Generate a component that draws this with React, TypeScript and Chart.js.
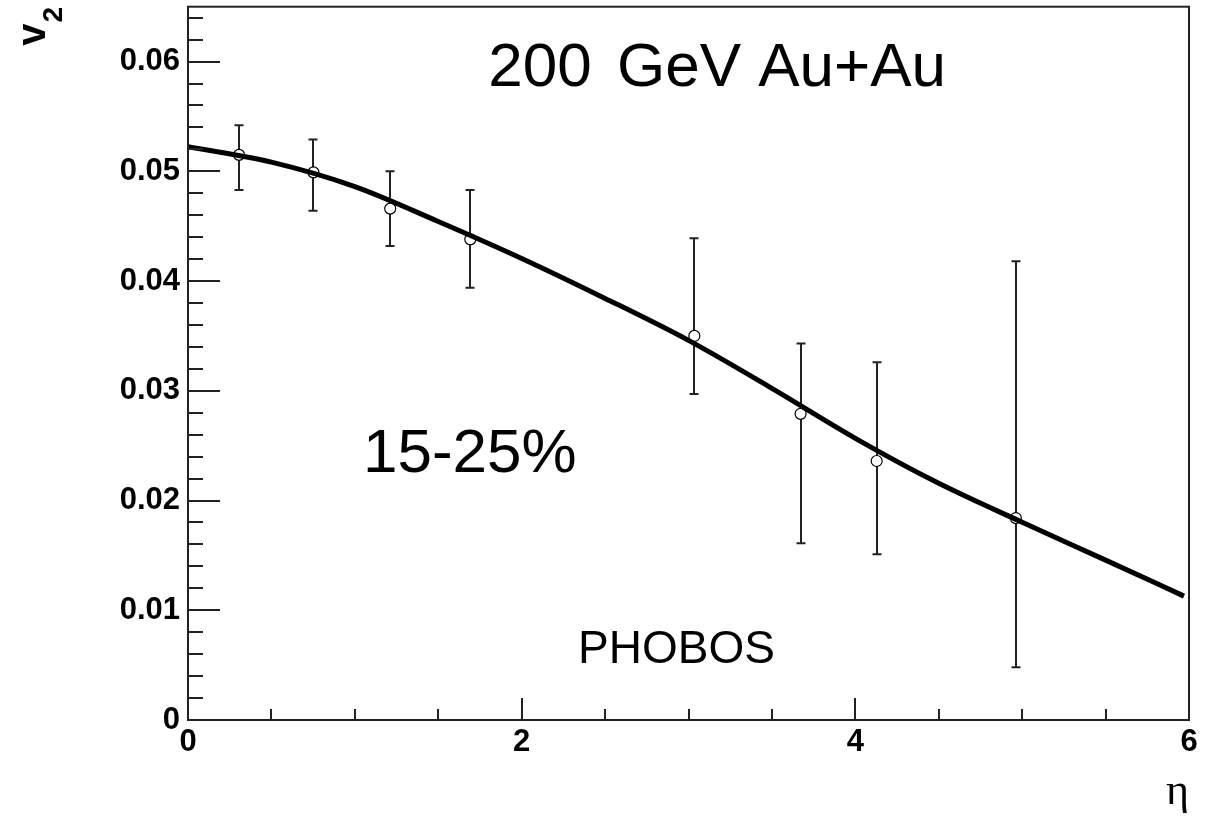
import React, { useEffect, useRef } from "react";
import { Chart, registerables } from "chart.js";

Chart.register(...registerables);

// ---- data ----
const etaPts = [0.306, 0.752, 1.212, 1.692, 3.035, 3.672, 4.128, 4.962];
const v2Pts = [0.0515, 0.0499, 0.0466, 0.0438, 0.035, 0.0279, 0.0236, 0.0184];
const v2ErrHigh = [0.0542, 0.0529, 0.05, 0.0483, 0.0439, 0.0343, 0.0326, 0.0418];
const v2ErrLow = [0.0483, 0.0464, 0.0432, 0.0394, 0.0297, 0.0161, 0.0151, 0.0048];

const fitEta = [0, 0.5, 1, 1.5, 2, 2.5, 3, 3.5, 4, 4.5, 5, 5.5, 5.97];
const fitV2 = [0.05225, 0.05084, 0.04861, 0.04543, 0.04206, 0.03842, 0.03459, 0.03022, 0.02567, 0.02157, 0.01802, 0.01457, 0.01129];

const yTickValues = [0, 0.01, 0.02, 0.03, 0.04, 0.05, 0.06];
const yTickLabels = ["0", "0.01", "0.02", "0.03", "0.04", "0.05", "0.06"];
const xTickValues = [0, 2, 4, 6];
const xTickLabels = ["0", "2", "4", "6"];

const SANS = '"Liberation Sans", Arial, Helvetica, sans-serif';
const SERIF = '"Liberation Serif", "DejaVu Serif", serif';

const decorPlugin = {
  id: "decor",
  beforeDraw(chart: any) {
    const ctx = chart.ctx;
    ctx.save();
    ctx.fillStyle = "#ffffff";
    ctx.fillRect(0, 0, chart.width, chart.height);
    ctx.restore();
  },
  beforeDatasetsDraw(chart: any) {
    const ctx = chart.ctx;
    const xs = chart.scales.x;
    const ys = chart.scales.y;
    ctx.save();
    ctx.strokeStyle = "#222";
    ctx.lineWidth = 2;
    for (let i = 0; i < etaPts.length; i++) {
      const px = Math.round(xs.getPixelForValue(etaPts[i]));
      const pHi = ys.getPixelForValue(v2ErrHigh[i]);
      const pLo = ys.getPixelForValue(v2ErrLow[i]);
      ctx.beginPath();
      ctx.moveTo(px, pHi);
      ctx.lineTo(px, pLo);
      ctx.moveTo(px - 4.5, pHi);
      ctx.lineTo(px + 4.5, pHi);
      ctx.moveTo(px - 4.5, pLo);
      ctx.lineTo(px + 4.5, pLo);
      ctx.stroke();
    }
    ctx.restore();
  },
  afterDraw(chart: any) {
    const ctx = chart.ctx;
    const { left, right, top, bottom } = chart.chartArea;
    const xs = chart.scales.x;
    const ys = chart.scales.y;
    ctx.save();
    // frame
    ctx.strokeStyle = "#222";
    ctx.lineWidth = 2;
    ctx.strokeRect(left, top, right - left, bottom - top);
    // y ticks (inward)
    ctx.beginPath();
    for (let i = 0; i <= 32; i++) {
      const v = i * 0.002;
      const py = Math.round(ys.getPixelForValue(v));
      const len = i % 5 === 0 ? 32 : 15;
      ctx.moveTo(left, py);
      ctx.lineTo(left + len, py);
    }
    // x ticks (inward)
    for (let i = 1; i < 12; i++) {
      const v = i * 0.5;
      const px = Math.round(xs.getPixelForValue(v));
      const len = i % 4 === 0 ? 22 : 11;
      ctx.moveTo(px, bottom);
      ctx.lineTo(px, bottom - len);
    }
    ctx.stroke();

    // annotations
    ctx.fillStyle = "#000";
    ctx.textAlign = "left";
    ctx.textBaseline = "alphabetic";
    ctx.font = `62px ${SANS}`;
    ctx.fillText("200", xs.getPixelForValue(1.8), ys.getPixelForValue(0.0578));
    ctx.fillText("GeV Au+Au", xs.getPixelForValue(2.571), ys.getPixelForValue(0.0578));
    ctx.fillText("15-25%", xs.getPixelForValue(1.049), ys.getPixelForValue(0.0226));
    ctx.font = `46px ${SANS}`;
    ctx.fillText("PHOBOS", xs.getPixelForValue(2.338), ys.getPixelForValue(0.0052));

    // x title
    ctx.font = `44px ${SERIF}`;
    ctx.textAlign = "right";
    ctx.fillText("η", right, bottom + 84);

    // y title
    ctx.save();
    ctx.translate(left - 143, top + 39);
    ctx.rotate(-Math.PI / 2);
    ctx.textAlign = "left";
    ctx.font = `bold 40px ${SANS}`;
    ctx.fillText("v", 0, 0);
    const w = ctx.measureText("v").width;
    ctx.font = `bold 28px ${SANS}`;
    ctx.fillText("2", w + 1, 17);
    ctx.restore();

    ctx.restore();
  },
};

export default function App() {
  const ref = useRef<HTMLCanvasElement | null>(null);

  useEffect(() => {
    if (!ref.current) return;
    const chart = new Chart(ref.current, {
      type: "line",
      data: {
        datasets: [
          {
            type: "line",
            label: "fit",
            data: fitEta.map((x, i) => ({ x, y: fitV2[i] })),
            borderColor: "#000",
            borderWidth: 5,
            pointRadius: 0,
            cubicInterpolationMode: "monotone",
            fill: false,
            order: 0,
          } as any,
          {
            type: "scatter",
            label: "PHOBOS",
            data: etaPts.map((x, i) => ({ x, y: v2Pts[i] })),
            pointRadius: 5.5,
            pointBackgroundColor: "#fff",
            pointBorderColor: "#000",
            pointBorderWidth: 1.2,
            showLine: false,
            order: 1,
          } as any,
        ],
      },
      options: {
        animation: false,
        responsive: false,
        maintainAspectRatio: false,
        layout: { padding: { top: 6, right: 27, left: 0, bottom: 0 } },
        plugins: {
          legend: { display: false },
          tooltip: { enabled: false },
          title: { display: false },
        },
        scales: {
          x: {
            type: "linear",
            min: 0,
            max: 6,
            afterBuildTicks: (s: any) => {
              s.ticks = xTickValues.map((v) => ({ value: v }));
            },
            afterFit: (s: any) => {
              s.height = 100;
              s.paddingLeft = 0;
              s.paddingRight = 0;
              s.paddingTop = 0;
              s.paddingBottom = 0;
            },
            ticks: {
              autoSkip: false,
              maxRotation: 0,
              minRotation: 0,
              padding: 4,
              color: "#000",
              font: { family: SANS, size: 31, weight: "bold" },
              callback: (_v: any, idx: number) => xTickLabels[idx],
            },
            grid: { display: false, drawTicks: false },
            border: { display: false },
          },
          y: {
            type: "linear",
            min: 0,
            max: 0.065,
            afterBuildTicks: (s: any) => {
              s.ticks = yTickValues.map((v) => ({ value: v }));
            },
            afterFit: (s: any) => {
              s.width = 188;
              s.paddingLeft = 0;
              s.paddingRight = 0;
              s.paddingTop = 0;
              s.paddingBottom = 0;
            },
            ticks: {
              autoSkip: false,
              padding: 8,
              color: "#000",
              font: { family: SANS, size: 31, weight: "bold" },
              callback: (_v: any, idx: number) => yTickLabels[idx],
            },
            grid: { display: false, drawTicks: false },
            border: { display: false },
          },
        },
      } as any,
      plugins: [decorPlugin],
    });
    return () => chart.destroy();
  }, []);

  return (
    <div style={{ position: "fixed", left: 0, top: 0, width: 1216, height: 820, background: "#fff" }}>
      <canvas ref={ref} width={1216} height={820} style={{ display: "block", width: 1216, height: 820 }} />
    </div>
  );
}
